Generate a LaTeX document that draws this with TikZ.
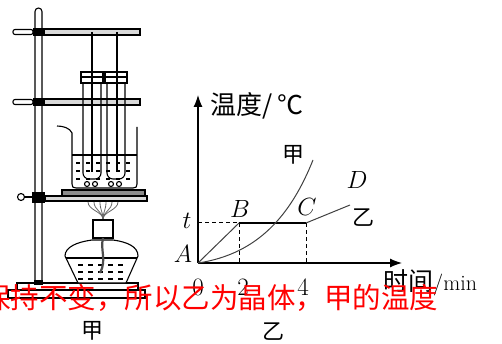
\documentclass[tikz,border=0pt]{standalone}
\usepackage{fontspec}
\newfontfamily\cjk{Noto Sans CJK SC}
\usetikzlibrary{arrows.meta}
\tikzset{
  cn/.style={font=\fontsize{22}{24}\selectfont\cjk},
  lt/.style={font=\fontsize{25}{27}\selectfont},
  ax/.style={line width=1.2pt,-{Latex[length=12pt,width=9pt]}},
  crv/.style={line width=1pt,black!75},
  dsh/.style={line width=1pt,dash pattern=on 4pt off 3pt},
  bar/.style={draw,fill=black!15},
}
\begin{document}
\begin{tikzpicture}[x=1pt,y=-1pt]
\useasboundingbox (0,0) rectangle (502,344);
\begin{scope}[line width=1.1pt]
% stand
\draw[fill=white] (8,290) rectangle (145,298);
\draw[fill=white] (17,283) rectangle (138,290);
\draw[fill=white,rounded corners=3.5pt] (35,284) -- (35,8) -- (42,8) -- (42,284);
\fill (34,280) rectangle (43,285);
\foreach \y in {32,102}{
  \draw[bar] (44,\y-3) rectangle (140,\y+3);
  \fill (33,\y-4) rectangle (44,\y+4);
  \draw[fill=white,rounded corners=2pt] (13,\y-2.5) rectangle (33,\y+2.5);
}
% beaker
\draw (57,126) .. controls (63,126) and (70,128) .. (72,133) -- (72,184) .. controls (72,187) and (73,188) .. (76,188) -- (133,188) .. controls (136,188) and (137,187) .. (137,184) -- (137,127);
\draw (72,155) -- (137,155);
\foreach \y in {163,171,179}
  \foreach \x in {76,86,...,130}
    \draw (\x,\y) -- (\x+4,\y);
% tubes
\foreach \x in {83,107}{
  \draw[rounded corners=6pt] (\x,83) -- (\x,179) -- (\x+18,179) -- (\x+18,83);
  \draw[fill=white] (\x-2,72) rectangle (\x+20,83);
  \draw (\x-2,77) -- (\x+20,77);
  \draw (\x+4,184) circle (2.5) (\x+12,184) circle (2.5);
}
\draw[line width=2.8pt] (92,32) -- (92,172);
\draw[line width=2.8pt] (117,32) -- (117,172);
% gauze and ring
\draw[fill=black!45] (62,190) rectangle (145,196);
\draw[bar] (45,196) rectangle (147,201);
\fill (32,192) rectangle (45,203);
\draw (24.5,197) -- (32,197);
\draw[fill=white] (21,197) circle (3.5);
\foreach \x in {88,94,...,118}
  \draw[black!60,line width=0.8pt] (\x,202) .. controls (\x,210) and (103,212) .. (103,219);
% lamp
\draw[fill=white] (93,220) rectangle (113,238);
\draw[fill=white] (92,240) -- (113,240) .. controls (128,242) and (138,247) .. (138,256) -- (126,283) -- (78,283) -- (65,256) .. controls (65,247) and (77,242) .. (92,240) -- cycle;
\draw (66,258) -- (137,258);
\foreach \y in {265,272,279}
  \foreach \x in {78,88,...,120}
    \draw (\x,\y) -- (\x+5,\y);
\draw[line width=2.2pt,black!70] (103,238) .. controls (100,250) and (107,260) .. (100,273);
\end{scope}
% graph
\coordinate (A) at (198,263);
\coordinate (yend) at (198,95);
\coordinate (xend) at (402,263);
\coordinate (T) at (198,223);
\coordinate (B) at (239,223);
\coordinate (C) at (306,223);
\coordinate (D) at (350,205);
\coordinate (J) at (313,160);
\coordinate (B0) at (239,263);
\coordinate (C0) at (306,263);
\draw[ax] (A) -- (yend);
\draw[ax] (A) -- (xend);
\draw[dsh] (T) -- (B);
\draw[dsh] (B) -- (B0);
\draw[dsh] (C) -- (C0);
\draw[line width=1.1pt] (B) -- (C);
\draw[crv] (A) -- (B);
\draw[crv] (C) -- (D);
\draw[crv] (A) .. controls (258,254) and (291,215) .. (J);
\node[anchor=west,font=\fontsize{26}{28}\selectfont\cjk] (ylab) at (207,106) {温度/\,℃};
\node[anchor=west,inner sep=0pt,font=\fontsize{22}{24}\selectfont] (xlab) at (383,283) {{\fontsize{25}{27}\selectfont\cjk 时间}/min};
\node[lt] (lt) at (187,221) {$t$};
\node[lt] (lA) at (183,254) {$A$};
\node[lt] (lB) at (240,209) {$B$};
\node[lt] (lC) at (307,207) {$C$};
\node[lt] (lD) at (357,180) {$D$};
\node[cn] (ljia) at (293,155) {甲};
\node[cn] (lyi) at (363,218) {乙};
\node[lt] (n0) at (198,287) {0};
\node[lt] (n2) at (243,287) {2};
\node[lt] (n4) at (303,287) {4};
\node[cn] (capa) at (92,331) {甲};
\node[cn] (capb) at (273,332) {乙};
\node[anchor=west,inner sep=0pt,text=red,font=\fontsize{28.5}{30}\selectfont\cjk] (note) at (-18,297.5) {保持不变，所以乙为晶体，甲的温度};
\end{tikzpicture}
\end{document}
